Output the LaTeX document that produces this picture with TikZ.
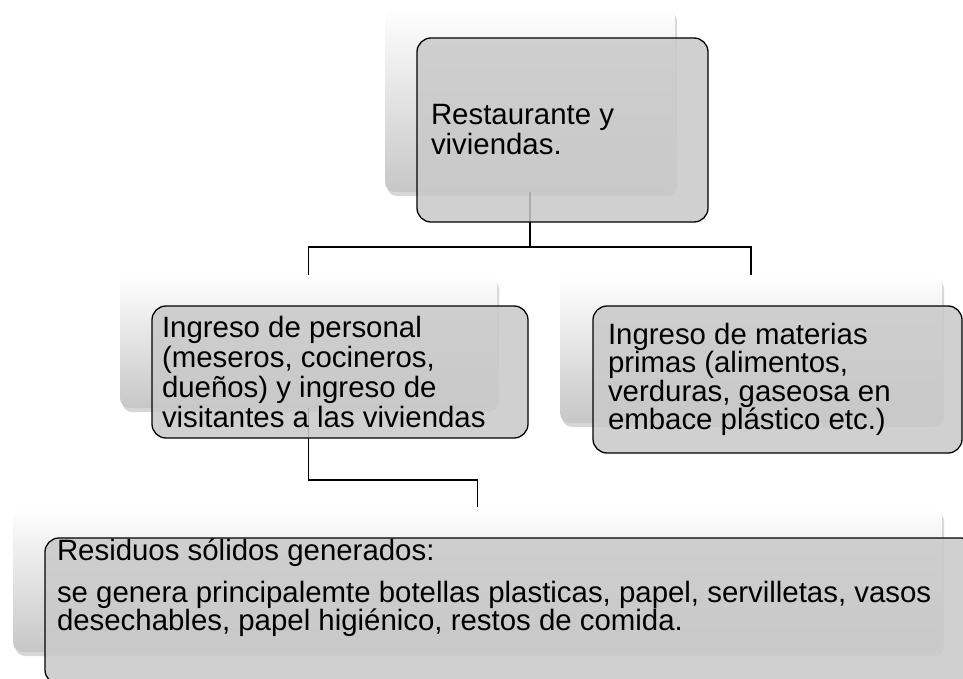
\documentclass[tikz,border=0pt]{standalone}
\usepackage{fontspec}
\setmainfont{Liberation Sans}
\usetikzlibrary{shadows}
\begin{document}
\begin{tikzpicture}[x=1pt,y=-1pt,
  backbox/.style={rectangle, rounded corners=10pt, inner sep=0pt, outer sep=0pt,
    top color=white, middle color=black!3, bottom color=black!22,
    drop shadow={shadow xshift=2pt, shadow yshift=-4pt, opacity=0.22, fill=black!70}},
  frontbox/.style={rectangle, rounded corners=14pt, inner sep=0pt, outer sep=0pt,
    draw=black, line width=1.3pt, fill=black!21, fill opacity=0.86},
  conn/.style={draw=black, line width=1.3pt},
  txt/.style={inner sep=0pt, outer sep=0pt, align=flush left, text=black}]
\useasboundingbox (0,0) rectangle (963,679);
\clip (0,0) rectangle (963,679);
\fill[white] (0,0) rectangle (963,679);
% back boxes
\node[backbox, minimum width=290pt, minimum height=185pt] (Tb) at (530,99.5) {};
\node[backbox, minimum width=377pt, minimum height=133pt] (Lb) at (308.5,341.5) {};
\node[backbox, minimum width=382pt, minimum height=148pt] (Rb) at (751,349) {};
\node[backbox, minimum width=929pt, minimum height=145pt] (Bb) at (477.5,579.5) {};
% connectors
\draw[conn] (Tb.south) -- ++(0,55) -| (Lb.north);
\draw[conn] (Tb.south) -- ++(0,55) -| (Rb.north);
\draw[conn] (Lb.south) -- ++(0,72) -| (Bb.north);
% front boxes
\node[frontbox, minimum width=291pt, minimum height=184pt] (Tf) at (562.5,130) {};
\node[frontbox, minimum width=376pt, minimum height=132pt] (Lf) at (340,372) {};
\node[frontbox, minimum width=369pt, minimum height=147pt] (Rf) at (777.5,379.5) {};
\node[frontbox, minimum width=930pt, minimum height=146pt] (Bf) at (510,611) {};
% texts
\node[txt, text width=270pt, anchor=west, font=\fontsize{29.4}{30}\selectfont] (Tt) at (431,130)
  {\spaceskip=0pt\xspaceskip=0pt Restaurante y\\viviendas.};
\node[txt, text width=360pt, anchor=west, font=\fontsize{29.4}{30.3}\selectfont] (Lt) at (162,372)
  {\spaceskip=0pt\xspaceskip=0pt Ingreso de personal\\(meseros, cocineros,\\dueños) y ingreso de\\visitantes a las viviendas};
\node[txt, text width=350pt, anchor=west, font=\fontsize{29.4}{28.5}\selectfont] (Rt) at (608,379.5)
  {\spaceskip=0pt\xspaceskip=0pt Ingreso de materias\\primas (alimentos,\\verduras, gaseosa en\\embace plástico etc.)};
\node[txt, text width=900pt, anchor=north west, font=\fontsize{29.4}{28}\selectfont] (Bt) at (57,539)
  {\spaceskip=0pt\xspaceskip=0pt Residuos sólidos generados:\\[14pt]se genera principalemte botellas plasticas, papel, servilletas, vasos\\desechables, papel higiénico, restos de comida.};
\end{tikzpicture}
\end{document}
